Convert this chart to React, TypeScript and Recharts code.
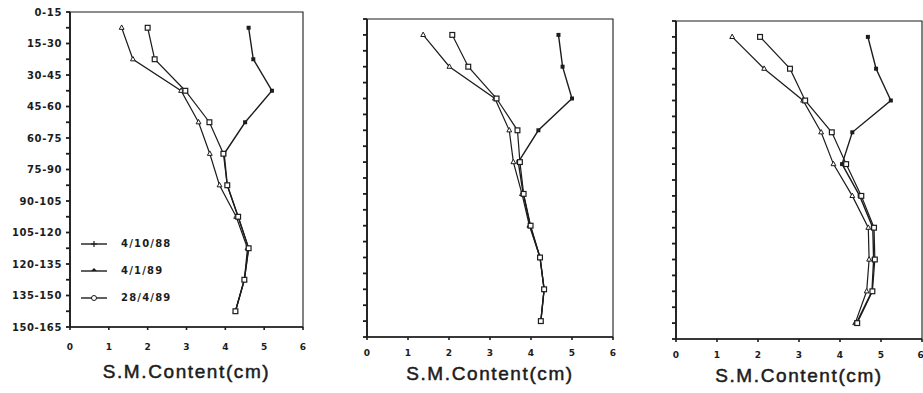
import React from "react";
import {
  LineChart,
  Line,
  XAxis,
  YAxis,
  Legend,
  ReferenceArea,
} from "recharts";

const depthLabels = [
  "0-15",
  "15-30",
  "30-45",
  "45-60",
  "60-75",
  "75-90",
  "90-105",
  "105-120",
  "120-135",
  "135-150",
  "150-165",
];
const xTicks = [0, 1, 2, 3, 4, 5, 6];
const seriesNames = ["4/10/88", "4/1/89", "28/4/89"];

// panel 1
const tri1 = [1.33, 1.62, 2.86, 3.31, 3.6, 3.85, 4.28, 4.57, 4.49, 4.26];
const fil1 = [4.6, 4.72, 5.2, 4.51, 3.97, 4.05, 4.33, 4.6, 4.49, 4.26];
const sq1 = [2.0, 2.18, 2.97, 3.59, 3.95, 4.05, 4.33, 4.6, 4.49, 4.26];
// panel 2
const tri2 = [1.37, 2.01, 3.12, 3.47, 3.57, 3.78, 3.96, 4.22, 4.32, 4.24];
const fil2 = [4.67, 4.77, 5.0, 4.18, 3.69, 3.81, 3.98, 4.22, 4.32, 4.24];
const sq2 = [2.08, 2.47, 3.16, 3.67, 3.73, 3.82, 3.99, 4.22, 4.32, 4.24];
// panel 3
const tri3 = [1.37, 2.15, 3.1, 3.54, 3.84, 4.3, 4.69, 4.71, 4.65, 4.37];
const fil3 = [4.68, 4.88, 5.24, 4.3, 4.05, 4.48, 4.8, 4.82, 4.78, 4.4];
const sq3 = [2.05, 2.78, 3.15, 3.8, 4.15, 4.52, 4.83, 4.85, 4.79, 4.42];

const INK = "#1c1c1c";
const H = 393;

const build = (a: number[], b: number[], c: number[]) =>
  a.map((v, i) => ({ d: i + 0.5, a: v, b: b[i], c: c[i] }));

const yTicks = depthLabels.flatMap((_, i) =>
  i < depthLabels.length - 1 ? [i, i + 0.5] : [i]
);

const TriDot = (p: any) => {
  const { cx, cy, index } = p;
  return (
    <path
      key={"t" + index}
      d={`M${cx},${cy - 2.8}L${cx + 2.4},${cy + 1.6}L${cx - 2.4},${cy + 1.6}Z`}
      fill="#fff"
      stroke={INK}
      strokeWidth={1}
    />
  );
};
const SqDot = (p: any) => {
  const { cx, cy, index } = p;
  return (
    <rect
      key={"s" + index}
      x={cx - 2.4}
      y={cy - 2.4}
      width={4.8}
      height={4.8}
      fill="#fff"
      stroke={INK}
      strokeWidth={1.2}
    />
  );
};
const FilDot = (p: any) => {
  const { cx, cy, index } = p;
  return (
    <rect
      key={"f" + index}
      x={cx - 2}
      y={cy - 2}
      width={4}
      height={4}
      fill={INK}
    />
  );
};

const LegendBox = () => (
  <div
    style={{
      fontFamily: "'DejaVu Sans', sans-serif",
      fontWeight: 700,
      fontSize: 10,
      letterSpacing: 1.2,
      color: INK,
    }}
  >
    {seriesNames.map((n, i) => (
      <div
        key={n}
        style={{ display: "flex", alignItems: "center", height: 27 }}
      >
        <svg width={30} height={10}>
          <line x1={0} y1={5} x2={26} y2={5} stroke={INK} strokeWidth={1.4} />
          {i === 0 && (
            <path d="M13,2L13,8M10,5L16,5" stroke={INK} strokeWidth={1.2} />
          )}
          {i === 1 && <path d="M10,5L13,2L16,5Z" fill={INK} />}
          {i === 2 && (
            <circle cx={13} cy={5} r={2.5} fill="#fff" stroke={INK} />
          )}
        </svg>
        <span style={{ marginLeft: 10 }}>{n}</span>
      </div>
    ))}
  </div>
);

type PanelProps = {
  left: number;
  width: number;
  plotLeft: number;
  plotRight: number;
  plotTop: number;
  plotBottom: number;
  tickGap: number;
  titleBase: number;
  labels: boolean;
  legend: boolean;
  tri: number[];
  fil: number[];
  sq: number[];
};

function Panel(p: PanelProps) {
  const data = build(p.tri, p.fil, p.sq);
  return (
    <div style={{ position: "absolute", left: p.left, top: 0 }}>
      <LineChart
        width={p.width}
        height={H}
        layout="vertical"
        data={data}
        margin={{
          top: p.plotTop,
          right: p.left + p.width - p.plotRight,
          bottom: 0,
          left: 0,
        }}
      >
        <XAxis
          type="number"
          domain={[0, 6]}
          ticks={xTicks}
          height={H - p.plotBottom}
          tickSize={3}
          tickMargin={p.tickGap}
          stroke={INK}
          strokeWidth={1.6}
          tick={{
            fill: INK,
            fontSize: 9,
            fontWeight: 700,
            fontFamily: "'DejaVu Sans', sans-serif",
          }}
          label={{
            value: "S.M.Content(cm)",
            position: "insideBottom",
            offset: H - p.titleBase,
            fill: INK,
            stroke: INK,
            strokeWidth: 0.5,
            fontSize: 19,
            letterSpacing: 1.6,
            fontFamily: "'Liberation Sans', Arial, sans-serif",
          }}
        />
        <YAxis
          type="number"
          dataKey="d"
          domain={[0, depthLabels.length - 1]}
          ticks={yTicks}
          interval={0}
          width={p.plotLeft - p.left}
          tickSize={4}
          tickMargin={4}
          stroke={INK}
          strokeWidth={1.8}
          tickFormatter={(v: number) =>
            p.labels && Number.isInteger(v) ? depthLabels[v] : ""
          }
          tick={{
            fill: INK,
            fontSize: 10,
            fontWeight: 700,
            letterSpacing: 0.6,
            fontFamily: "'DejaVu Sans', sans-serif",
          }}
        />
        <ReferenceArea
          x1={0}
          x2={6}
          y1={0}
          y2={depthLabels.length - 1}
          fill="none"
          stroke={INK}
          strokeWidth={1.1}
        />
        <Line
          dataKey="a"
          stroke={INK}
          strokeWidth={1.2}
          dot={TriDot}
          isAnimationActive={false}
        />
        <Line
          dataKey="b"
          stroke={INK}
          strokeWidth={1.4}
          dot={FilDot}
          isAnimationActive={false}
        />
        <Line
          dataKey="c"
          stroke={INK}
          strokeWidth={1.2}
          dot={SqDot}
          isAnimationActive={false}
        />
        {p.legend && (
          <Legend
            layout="vertical"
            align="center"
            verticalAlign="middle"
            content={<LegendBox />}
            wrapperStyle={{ left: 81, top: 230, width: 130 }}
          />
        )}
      </LineChart>
    </div>
  );
}

export default function App() {
  return (
    <div
      style={{
        position: "absolute",
        left: 0,
        top: 0,
        width: 923,
        height: H,
        background: "#fff",
        overflow: "hidden",
      }}
    >
      <Panel
        left={0}
        width={310}
        plotLeft={70}
        plotRight={303}
        plotTop={12}
        plotBottom={327}
        tickGap={14}
        titleBase={378}
        labels
        legend
        tri={tri1}
        fil={fil1}
        sq={sq1}
      />
      <Panel
        left={310}
        width={310}
        plotLeft={367}
        plotRight={613}
        plotTop={19}
        plotBottom={337}
        tickGap={10}
        titleBase={380}
        labels={false}
        legend={false}
        tri={tri2}
        fil={fil2}
        sq={sq2}
      />
      <Panel
        left={620}
        width={303}
        plotLeft={676}
        plotRight={922}
        plotTop={21}
        plotBottom={339}
        tickGap={10}
        titleBase={382}
        labels={false}
        legend={false}
        tri={tri3}
        fil={fil3}
        sq={sq3}
      />
    </div>
  );
}
